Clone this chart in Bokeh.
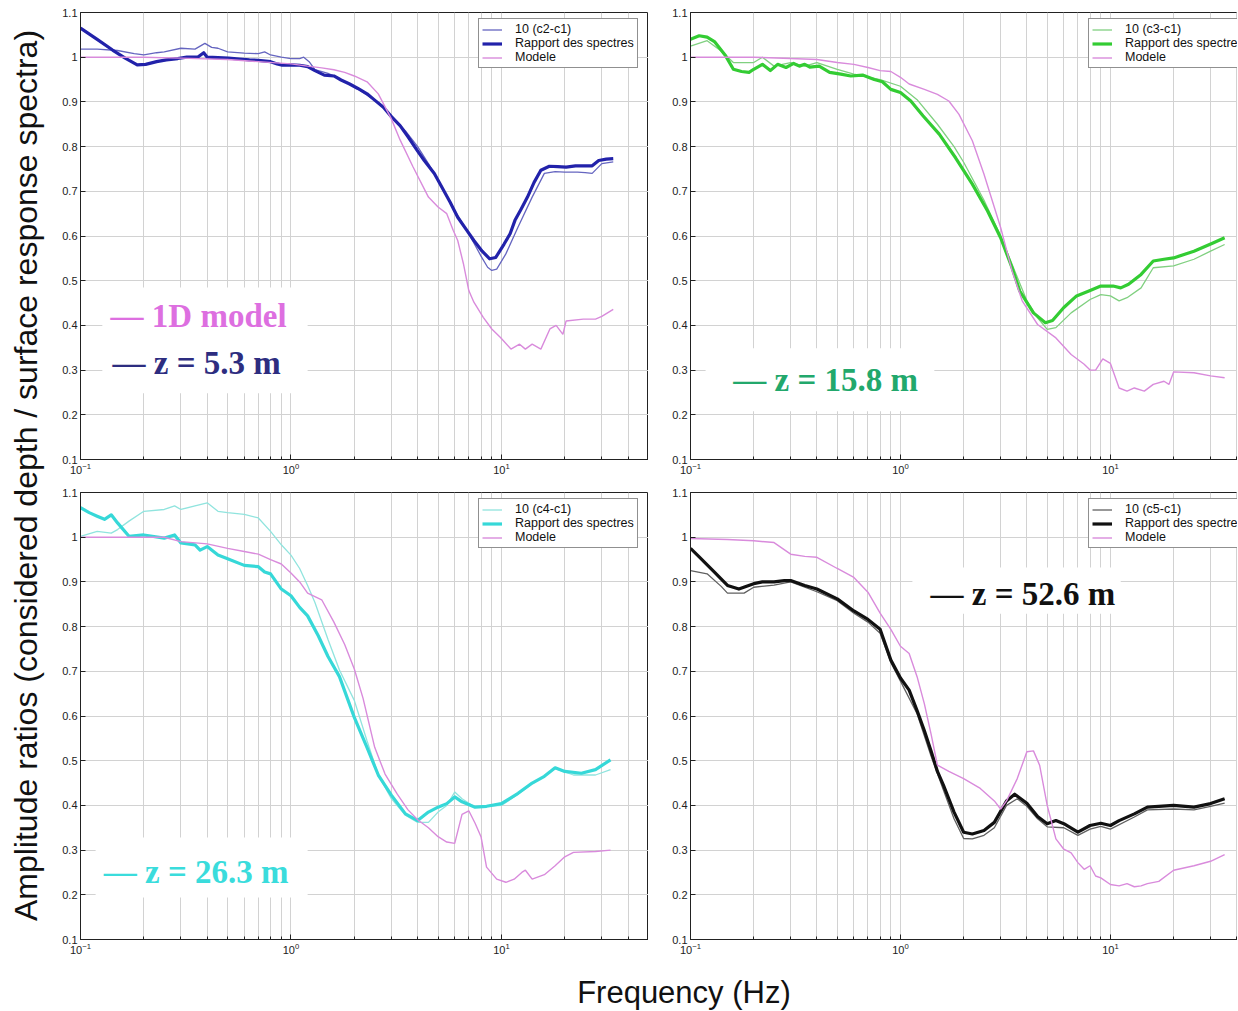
import math
from bokeh.plotting import figure
from bokeh.models import Range1d, FixedTicker, Legend, LegendItem, Label, BoxAnnotation, LogTickFormatter
from bokeh.layouts import row, column
from bokeh.embed import file_html
from bokeh.resources import INLINE

# ---------------- data ----------------
X_TICKS = [0.1, 1, 10]
X_MINOR = [0.2, 0.3, 0.4, 0.5, 0.6, 0.7, 0.8, 0.9, 2, 3, 4, 5, 6, 7, 8, 9, 20, 30, 40, 50]
Y_TICKS = [0.1, 0.2, 0.3, 0.4, 0.5, 0.6, 0.7, 0.8, 0.9, 1.0, 1.1]
Y_LABELS = ["0.1", "0.2", "0.3", "0.4", "0.5", "0.6", "0.7", "0.8", "0.9", "1", "1.1"]

LEGEND_LABELS = ["10 (c2-c1)", "10 (c3-c1)", "10 (c4-c1)", "10 (c5-c1)"]
RATIO_LABEL = "Rapport des spectres"
MODEL_LABEL = "Modele"
DEPTH_TEXT = ["— z = 5.3 m", "— z = 15.8 m", "— z = 26.3 m", "— z = 52.6 m"]
MODEL_TEXT = "— 1D model"
Y_TITLE = "Amplitude ratios (considered depth / surface response spectra)"
X_TITLE = "Frequency (Hz)"

# Panel 1 (z = 5.3 m)
f1_thin = [0.1, 0.12, 0.15, 0.18, 0.2, 0.23, 0.25, 0.3, 0.35, 0.39, 0.42, 0.45, 0.5, 0.6, 0.7, 0.75, 0.8, 0.9, 1.0, 1.1,
           1.15, 1.22, 1.3, 1.5, 1.7, 2.0, 2.5, 3.0, 3.5, 4.0, 4.5, 5.0, 6.0, 7.0, 8.0, 8.6, 9.0, 9.5, 10.5, 12,
           14, 16, 18, 20, 23, 25, 27, 30, 34]
v1_thin = [1.018, 1.018, 1.015, 1.008, 1.005, 1.01, 1.012, 1.02, 1.018, 1.031, 1.022, 1.02, 1.012, 1.009, 1.008, 1.012, 1.005, 1.0, 0.997, 0.997,
           1.0, 0.99, 0.972, 0.964, 0.952, 0.934, 0.904, 0.87, 0.835, 0.8, 0.762, 0.725, 0.657, 0.605, 0.555, 0.53, 0.523, 0.526, 0.56, 0.62,
           0.687, 0.74, 0.744, 0.743, 0.743, 0.742, 0.74, 0.762, 0.766]
f1_ratio = [0.1, 0.12, 0.142, 0.163, 0.186, 0.204, 0.23, 0.256, 0.29, 0.32, 0.36, 0.385, 0.4, 0.45, 0.505, 0.57, 0.635, 0.7, 0.8, 0.86,
            0.91, 1.0, 1.1, 1.2, 1.3, 1.44, 1.6, 1.73, 1.9, 2.08, 2.3, 2.5, 2.75, 3.0, 3.3, 3.6, 4.0, 4.3, 4.8, 5.2,
            5.7, 6.2, 6.8, 7.4, 8.1, 8.8, 9.4, 10.3, 11.0, 11.6, 12.4, 13.3, 14.3, 15.4, 16.9, 18.5, 20.3, 22.5, 25.1, 27,
            29, 31.5, 34]
v1_ratio = [1.065, 1.04, 1.016, 0.998, 0.983, 0.984, 0.99, 0.994, 0.997, 1.0, 1.0, 1.01, 1.0, 0.999, 0.998, 0.996, 0.994, 0.993, 0.99, 0.985,
            0.982, 0.983, 0.982, 0.979, 0.97, 0.96, 0.958, 0.949, 0.94, 0.93, 0.918, 0.904, 0.888, 0.867, 0.847, 0.822, 0.79, 0.769, 0.74, 0.71,
            0.676, 0.642, 0.615, 0.59, 0.566, 0.549, 0.552, 0.582, 0.605, 0.635, 0.66, 0.687, 0.72, 0.747, 0.756, 0.755, 0.754, 0.757, 0.757, 0.757,
            0.769, 0.772, 0.773]
f1_model = [0.1, 0.2, 0.3, 0.5, 0.7, 1.0, 1.2, 1.4, 1.6, 1.8, 2.0, 2.3, 2.6, 3.0, 3.3, 3.8, 4.5, 5.0, 5.5, 5.9,
            6.2, 6.6, 7.0, 7.4, 8.2, 9.0, 9.9, 11.1, 12.2, 13.0, 14.0, 15.4, 17.0, 18.2, 19.6, 20.3, 24.5, 28, 30, 34]
v1_model = [1.0, 1.0, 0.998, 0.995, 0.99, 0.985, 0.98, 0.976, 0.972, 0.966, 0.958, 0.945, 0.918, 0.862, 0.815, 0.755, 0.687, 0.665, 0.65, 0.613,
            0.59, 0.538, 0.478, 0.452, 0.418, 0.392, 0.373, 0.347, 0.358, 0.347, 0.358, 0.347, 0.392, 0.40, 0.38, 0.41, 0.414, 0.414, 0.42, 0.436]

# Panel 2 (z = 15.8 m)
f2_thin = [0.1, 0.12, 0.14, 0.16, 0.2, 0.22, 0.25, 0.3, 0.35, 0.4, 0.5, 0.6, 0.8, 1.0, 1.2, 1.5, 1.8, 2.0, 2.5, 3.0,
           3.5, 4.0, 4.5, 5.0, 5.5, 6.5, 8, 9, 10, 11, 12, 14, 16, 20, 25, 30, 35]
v2_thin = [1.025, 1.037, 1.014, 0.988, 0.988, 1.0, 0.98, 0.988, 0.98, 0.988, 0.973, 0.962, 0.95, 0.935, 0.905, 0.85, 0.80, 0.765, 0.68, 0.60,
           0.522, 0.455, 0.417, 0.391, 0.395, 0.428, 0.458, 0.469, 0.466, 0.455, 0.462, 0.484, 0.529, 0.533, 0.548, 0.566, 0.581]
f2_ratio = [0.1, 0.11, 0.12, 0.13, 0.147, 0.16, 0.175, 0.19, 0.2, 0.22, 0.24, 0.26, 0.285, 0.31, 0.33, 0.35, 0.37, 0.41, 0.46, 0.52,
            0.58, 0.66, 0.75, 0.82, 0.9, 1.0, 1.12, 1.28, 1.53, 1.83, 2.2, 2.6, 3.0, 3.4, 3.7, 4.3, 4.9, 5.3, 6.0, 6.9,
            7.9, 9.0, 10.3, 11.2, 12.2, 14, 16, 18, 20, 25, 31, 35]
v2_ratio = [1.04, 1.048, 1.045, 1.035, 1.003, 0.973, 0.968, 0.966, 0.973, 0.984, 0.97, 0.984, 0.977, 0.986, 0.98, 0.984, 0.978, 0.98, 0.966, 0.962,
            0.958, 0.96, 0.95, 0.945, 0.928, 0.921, 0.902, 0.869, 0.828, 0.775, 0.716, 0.656, 0.596, 0.529, 0.477, 0.428, 0.406, 0.411, 0.44, 0.466,
            0.477, 0.488, 0.488, 0.484, 0.492, 0.514, 0.544, 0.548, 0.551, 0.566, 0.585, 0.596]
f2_model = [0.1, 0.2, 0.3, 0.4, 0.5, 0.6, 0.7, 0.8, 0.9, 1.0, 1.1, 1.3, 1.5, 1.7, 1.9, 2.2, 2.5, 3.0, 3.4, 3.8,
            4.5, 5.5, 6.5, 7.5, 8.0, 8.5, 9.2, 10, 11, 12, 13, 14.5, 16, 18, 19, 20, 25, 30, 35]
v2_model = [1.0, 1.0, 0.997, 0.995, 0.988, 0.984, 0.977, 0.97, 0.968, 0.955, 0.94, 0.928, 0.917, 0.902, 0.872, 0.813, 0.738, 0.619, 0.522, 0.455,
            0.402, 0.372, 0.335, 0.313, 0.3, 0.3, 0.325, 0.315, 0.26, 0.253, 0.26, 0.253, 0.268, 0.275, 0.268, 0.296, 0.294, 0.287, 0.283]

# Panel 3 (z = 26.3 m)
f3_thin = [0.1, 0.12, 0.14, 0.15, 0.17, 0.2, 0.25, 0.28, 0.3, 0.35, 0.4, 0.45, 0.5, 0.6, 0.7, 0.8, 0.9, 1.0, 1.1, 1.2,
           1.3, 1.5, 1.7, 2.0, 2.3, 2.6, 3.0, 3.5, 4.0, 4.5, 5.0, 5.5, 6.0, 6.5, 7.5, 10, 12, 14, 18, 22,
           28, 33]
v3_thin = [1.002, 1.013, 1.009, 1.017, 1.036, 1.058, 1.062, 1.07, 1.062, 1.07, 1.077, 1.058, 1.055, 1.051, 1.043, 1.013, 0.983, 0.96, 0.93, 0.892,
           0.854, 0.771, 0.703, 0.635, 0.544, 0.468, 0.415, 0.378, 0.362, 0.362, 0.385, 0.4, 0.43, 0.415, 0.396, 0.4, 0.425, 0.448, 0.482, 0.468,
           0.468, 0.48]
f3_ratio = [0.1, 0.11, 0.12, 0.13, 0.14, 0.15, 0.17, 0.2, 0.25, 0.28, 0.3, 0.35, 0.37, 0.4, 0.45, 0.5, 0.6, 0.7, 0.75, 0.8,
            0.9, 1.0, 1.1, 1.2, 1.35, 1.5, 1.7, 2.0, 2.3, 2.6, 3.0, 3.5, 4.0, 4.5, 5.0, 5.5, 6.0, 6.5, 7.5, 8.5,
            10, 12, 14, 16, 18, 20, 24, 28, 33]
v3_ratio = [1.066, 1.055, 1.047, 1.04, 1.05, 1.032, 1.002, 1.005, 0.998, 1.005, 0.987, 0.983, 0.971, 0.979, 0.96, 0.952, 0.937, 0.934, 0.922, 0.918,
            0.884, 0.869, 0.843, 0.824, 0.779, 0.733, 0.688, 0.597, 0.529, 0.468, 0.423, 0.381, 0.366, 0.385, 0.396, 0.404, 0.419, 0.408, 0.396, 0.398,
            0.404, 0.427, 0.45, 0.465, 0.484, 0.476, 0.472, 0.48, 0.502]
f3_model = [0.1, 0.25, 0.3, 0.4, 0.5, 0.6, 0.7, 0.8, 0.9, 1.0, 1.1, 1.2, 1.4, 1.6, 1.8, 2.0, 2.2, 2.5, 2.8, 3.2,
            3.6, 4.0, 4.5, 5.0, 5.5, 6.0, 6.5, 7.0, 7.5, 8.0, 8.5, 9.5, 10.5, 11.5, 12.5, 13, 14, 16, 18, 20,
            22, 28, 33]
v3_model = [1.0, 1.0, 0.99, 0.985, 0.975, 0.968, 0.962, 0.95, 0.94, 0.92, 0.9, 0.875, 0.86, 0.81, 0.76, 0.705, 0.64, 0.53, 0.47, 0.425,
            0.39, 0.368, 0.35, 0.33, 0.318, 0.315, 0.38, 0.388, 0.36, 0.33, 0.262, 0.235, 0.228, 0.235, 0.25, 0.255, 0.235, 0.245, 0.265, 0.285,
            0.295, 0.297, 0.30]

# Panel 4 (z = 52.6 m)
f4_thin = [0.1, 0.12, 0.14, 0.15, 0.18, 0.2, 0.25, 0.3, 0.4, 0.5, 0.6, 0.7, 0.8, 0.9, 1.0, 1.2, 1.4, 1.6, 1.8, 2.0,
           2.2, 2.5, 2.8, 3.2, 3.6, 4.0, 4.5, 5.0, 6.0, 7.0, 8, 9, 10, 13, 15, 20, 25, 30, 35]
v4_thin = [0.925, 0.918, 0.89, 0.875, 0.875, 0.888, 0.893, 0.9, 0.878, 0.858, 0.83, 0.81, 0.785, 0.72, 0.678, 0.605, 0.51, 0.435, 0.37, 0.326,
           0.325, 0.333, 0.35, 0.4, 0.415, 0.398, 0.37, 0.352, 0.35, 0.333, 0.347, 0.353, 0.347, 0.374, 0.39, 0.392, 0.39, 0.398, 0.405]
f4_ratio = [0.1, 0.11, 0.13, 0.15, 0.17, 0.2, 0.22, 0.25, 0.28, 0.3, 0.35, 0.4, 0.5, 0.6, 0.7, 0.8, 0.9, 1.0, 1.1, 1.2,
            1.3, 1.4, 1.5, 1.6, 1.8, 2.0, 2.2, 2.5, 2.8, 3.2, 3.5, 4.0, 4.5, 5.0, 5.5, 6, 7, 8, 9, 10,
            11, 13, 15, 17, 20, 25, 30, 35]
v4_ratio = [0.975, 0.956, 0.922, 0.892, 0.884, 0.896, 0.9, 0.9, 0.903, 0.903, 0.892, 0.884, 0.862, 0.835, 0.816, 0.794, 0.725, 0.685, 0.658, 0.612,
            0.567, 0.521, 0.476, 0.446, 0.385, 0.34, 0.336, 0.344, 0.362, 0.41, 0.425, 0.405, 0.375, 0.359, 0.366, 0.359, 0.34, 0.355, 0.36, 0.355,
            0.366, 0.381, 0.396, 0.398, 0.40, 0.396, 0.404, 0.415]
f4_model = [0.1, 0.15, 0.2, 0.25, 0.3, 0.35, 0.4, 0.5, 0.6, 0.7, 0.8, 0.9, 1.0, 1.1, 1.2, 1.3, 1.4, 1.5, 1.7, 2.0,
            2.4, 2.8, 3.0, 3.2, 3.6, 4.0, 4.3, 4.6, 5.0, 5.5, 6.0, 6.5, 7.0, 7.5, 8.0, 8.5, 9, 10, 11, 12,
            13, 14, 15, 17, 20, 25, 30, 35]
v4_model = [0.997, 0.995, 0.992, 0.988, 0.962, 0.957, 0.955, 0.93, 0.91, 0.877, 0.83, 0.794, 0.756, 0.74, 0.688, 0.627, 0.559, 0.49, 0.476, 0.46,
            0.438, 0.41, 0.392, 0.41, 0.46, 0.52, 0.522, 0.49, 0.40, 0.325, 0.302, 0.294, 0.272, 0.257, 0.265, 0.242, 0.238, 0.223, 0.22, 0.225,
            0.218, 0.22, 0.225, 0.23, 0.255, 0.265, 0.275, 0.29]

# ---------------- style ----------------
FONT = "Liberation Sans"
SERIF = "Liberation Serif"
GRID = "#d2d2d2"
MODEL_COLOR = "#d98bdc"
PANELS = [
    dict(thin=(f1_thin, v1_thin), ratio=(f1_ratio, v1_ratio), model=(f1_model, v1_model),
         thin_c="#6565c0", ratio_c="#2222aa", lab=LEGEND_LABELS[0], txt=DEPTH_TEXT[0], txt_c="#2d2d80",
         txt_pos=(0.142, 0.315), box=(0.127, 1.2, 0.248, 0.485)),
    dict(thin=(f2_thin, v2_thin), ratio=(f2_ratio, v2_ratio), model=(f2_model, v2_model),
         thin_c="#80d080", ratio_c="#33cc33", lab=LEGEND_LABELS[1], txt=DEPTH_TEXT[1], txt_c="#22a86c",
         txt_pos=(0.16, 0.277), box=(0.118, 1.45, 0.208, 0.349)),
    dict(thin=(f3_thin, v3_thin), ratio=(f3_ratio, v3_ratio), model=(f3_model, v3_model),
         thin_c="#90e4de", ratio_c="#36d8d8", lab=LEGEND_LABELS[2], txt=DEPTH_TEXT[2], txt_c="#3adcdc",
         txt_pos=(0.129, 0.25), box=(0.118, 1.2, 0.194, 0.328)),
    dict(thin=(f4_thin, v4_thin), ratio=(f4_ratio, v4_ratio), model=(f4_model, v4_model),
         thin_c="#606060", ratio_c="#111111", lab=LEGEND_LABELS[3], txt=DEPTH_TEXT[3], txt_c="#111111",
         txt_pos=(1.39, 0.872), box=(1.14, 11.2, 0.829, 0.932)),
]

X_END_LEFT = 50.0
X_END_RIGHT = 40.3


def make_panel(cfg, x_end, width, height, mb_left, mb_top, mb_bottom, extra_model_label=False):
    p = figure(x_axis_type="log", x_range=Range1d(0.1, x_end), y_range=Range1d(0.1, 1.1),
               width=width, height=height, min_border_left=mb_left, min_border_right=0,
               min_border_top=mb_top, min_border_bottom=mb_bottom,
               toolbar_location=None, output_backend="svg",
               background_fill_color="white", border_fill_color="white")
    p.outline_line_color = "#222222"
    p.outline_line_width = 1
    p.xaxis.ticker = FixedTicker(ticks=X_TICKS, minor_ticks=X_MINOR)
    p.xaxis.formatter = LogTickFormatter()
    p.yaxis.ticker = FixedTicker(ticks=Y_TICKS, minor_ticks=[])
    p.yaxis.major_label_overrides = {t: l for t, l in zip(Y_TICKS, Y_LABELS)}
    for ax in (p.xaxis[0], p.yaxis[0]):
        ax.major_tick_in = 5
        ax.major_tick_out = 0
        ax.minor_tick_in = 3
        ax.minor_tick_out = 0
        ax.major_tick_line_color = "#222222"
        ax.minor_tick_line_color = "#222222"
        ax.axis_line_color = "#222222"
        ax.major_label_text_font = FONT
        ax.major_label_text_font_size = "11px"
        ax.major_label_text_color = "#222222"
        ax.major_label_standoff = 3
    p.xgrid.grid_line_color = GRID
    p.xgrid.minor_grid_line_color = GRID
    p.ygrid.grid_line_color = GRID

    r_thin = p.line(cfg["thin"][0], cfg["thin"][1], line_color=cfg["thin_c"], line_width=1.3)
    r_ratio = p.line(cfg["ratio"][0], cfg["ratio"][1], line_color=cfg["ratio_c"], line_width=3.2,
                     line_join="round")
    r_model = p.line(cfg["model"][0], cfg["model"][1], line_color=MODEL_COLOR, line_width=1.4)

    legend = Legend(items=[LegendItem(label=cfg["lab"], renderers=[r_thin]),
                           LegendItem(label=RATIO_LABEL, renderers=[r_ratio]),
                           LegendItem(label=MODEL_LABEL, renderers=[r_model])],
                    location=(398, 391), border_line_color="#222222", border_line_width=1,
                    background_fill_color="white", background_fill_alpha=1.0,
                    label_text_font=FONT, label_text_font_size="12.5px", label_text_color="#111111",
                    glyph_width=20, glyph_height=13, label_height=13, spacing=0,
                    padding=3, label_standoff=13, margin=0)
    p.add_layout(legend)

    b = cfg["box"]
    p.add_layout(BoxAnnotation(left=b[0], right=b[1], bottom=b[2], top=b[3],
                               fill_color="white", fill_alpha=1.0, line_color=None))
    if extra_model_label:
        p.add_layout(Label(x=0.139, y=0.42, text=MODEL_TEXT, text_font=SERIF, text_font_style="bold",
                           text_font_size="33px", text_color="#dd6fe0", text_baseline="middle",
                           text_align="left"))
    p.add_layout(Label(x=cfg["txt_pos"][0], y=cfg["txt_pos"][1], text=cfg["txt"], text_font=SERIF,
                       text_font_style="bold", text_font_size="33px", text_color=cfg["txt_c"],
                       text_baseline="middle", text_align="left"))
    return p


# page has no margin: panels placed so that frames match the reference pixels
p1 = make_panel(PANELS[0], X_END_LEFT, 602, 484, 34, 12, 25, extra_model_label=True)
p2 = make_panel(PANELS[1], X_END_RIGHT, 589, 484, 42, 12, 25)
p3 = make_panel(PANELS[2], X_END_LEFT, 602, 475, 34, 8, 20)
p4 = make_panel(PANELS[3], X_END_RIGHT, 589, 475, 42, 8, 20)


def blank(width, height):
    f = figure(width=width, height=height, x_range=Range1d(0, 1), y_range=Range1d(0, 1),
               x_axis_location=None, y_axis_location=None, toolbar_location=None,
               min_border_left=0, min_border_right=0, min_border_top=0, min_border_bottom=0,
               output_backend="svg", background_fill_color="white", border_fill_color="white")
    f.outline_line_color = None
    f.grid.visible = False
    return f


ylab = blank(46, 959)
ylab.add_layout(Label(x=0.55, y=0.5047, text=Y_TITLE, angle=math.pi / 2, text_align="center",
                      text_baseline="middle", text_font=FONT, text_font_size="32px", text_color="#111111"))
xlab = blank(1237, 51)
xlab.add_layout(Label(x=0.5525, y=0.36, text=X_TITLE, text_align="center", text_baseline="middle",
                      text_font=FONT, text_font_size="31px", text_color="#111111"))

layout = column(row(ylab, column(row(p1, p2), row(p3, p4))), xlab)

open("out.html", "w").write(file_html(layout, INLINE))
